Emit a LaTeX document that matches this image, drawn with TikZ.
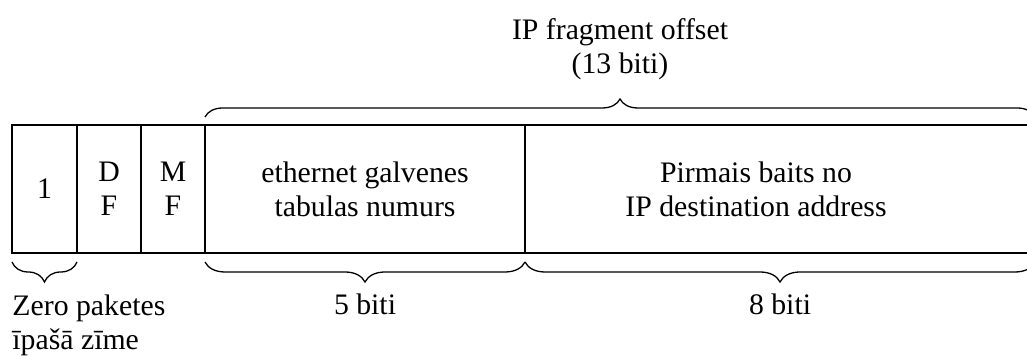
\documentclass[tikz,border=0pt]{standalone}
\usepackage{fontspec}
\setmainfont{Liberation Serif}
\usetikzlibrary{positioning,calc,decorations.pathreplacing}

\begin{document}
\begin{tikzpicture}[x=0.015cm,y=0.015cm,font=\fontsize{12.7}{14.5}\selectfont,
 field/.style={draw,line width=0.55pt,minimum height=1.92cm,inner sep=0pt,outer sep=0pt,align=center},
 brc/.style={decorate,line width=0.55pt,decoration={brace,amplitude=#1}},
 brc/.default=0.3cm]
\useasboundingbox (0,0) rectangle (1027,356);
\clip (0,0) rectangle (1027,356);
% the fields of the word
\node[field,minimum width=0.975cm] (one) at (44.5,167) {1};
\node[field,minimum width=0.96cm,right=0pt of one] (df) {D\\F};
\node[field,minimum width=0.96cm,right=0pt of df] (mf) {M\\F};
\node[field,minimum width=4.8cm,right=0pt of mf] (eth) {ethernet galvenes\\tabulas numurs};
\node[field,minimum width=7.65cm,right=0pt of eth] (ip) {};
\node[align=center] (iptext) at ($(ip.center)+(-24,0)$) {Pirmais baits no\\IP destination address};
% brace above
\draw[brc=0.27cm] ($(eth.north west)+(0,8)$) -- ($(ip.north east)+(0,8)$)
 node[midway,above=0.43cm,align=center] (offs) {IP fragment offset\\(13 biti)};
% braces below
\draw[brc] ($(one.south east)+(0,-9)$) -- ($(one.south west)+(0,-9)$);
\draw[brc] ($(eth.south east)+(0,-9)$) -- ($(eth.south west)+(0,-9)$)
 node[midway,below=0.345cm] (five) {5 biti};
\draw[brc] ($(ip.south east)+(0,-9)$) -- ($(ip.south west)+(0,-9)$)
 node[midway,below=0.345cm] (eight) {8 biti};
\node[anchor=north west,align=left,inner sep=0pt] (zero) at ($(one.south west)+(0,-41)$) {Zero paketes\\īpašā zīme};
\end{tikzpicture}
\end{document}
